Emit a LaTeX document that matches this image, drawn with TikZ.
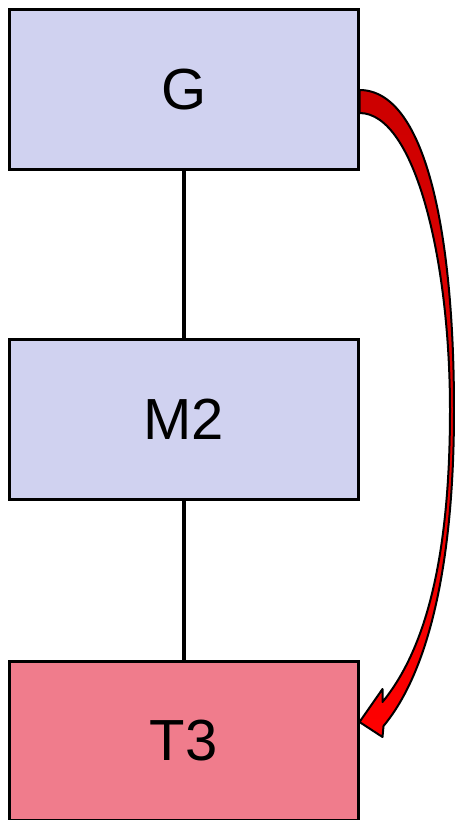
\documentclass[tikz,border=0pt]{standalone}
\usepackage{fontspec}
\setmainfont{Liberation Sans}
\usetikzlibrary{positioning,calc}

\definecolor{blockblue}{RGB}{208,210,240}
\definecolor{blockred}{RGB}{240,124,140}
\definecolor{arrowdark}{RGB}{204,0,0}
\definecolor{arrowlight}{RGB}{255,0,0}

\begin{document}
\begin{tikzpicture}[
    x=1pt, y=-1pt,
    block/.style={draw, line width=3pt, minimum width=348.5pt, minimum height=159.5pt,
                  inner sep=0pt, font=\fontsize{58}{60}\selectfont},
    link/.style={line width=3.8pt},
    bigarrow/.style={draw, line width=2pt, line join=round,
                     top color=arrowdark, bottom color=arrowlight}
]
\useasboundingbox (0,0) rectangle (455,820);

% stack of blocks
\node[block, fill=blockblue] (G) at (183.75,89.25) {G};
\node[block, fill=blockblue] (M2) at (183.75,419.5) {M2};
\node[block, fill=blockred] (T3) at (183.75,741) {T3};

\draw[link] (G) -- (M2);
\draw[link] (M2) -- (T3);

% curved arrow from G to T3
\coordinate (g1) at ($(G.east)+(0,0.75)$);
\coordinate (g2) at ($(G.east)+(0,23.75)$);
\coordinate (tip) at ($(T3.east)+(0,-19)$);
\path[bigarrow] (g1) .. controls (425,90) and (454,230) .. (454,410)
    .. controls (454,560) and (430,670) .. ($(tip)+(24,4)$)
    -- ($(tip)+(23,15)$) -- (tip) -- ($(tip)+(23,-33)$) -- ($(tip)+(23,-20)$)
    .. controls (425,650) and (450,560) .. (450,410)
    .. controls (450,260) and (415,113) .. (g2) -- cycle;

\end{tikzpicture}
\end{document}
